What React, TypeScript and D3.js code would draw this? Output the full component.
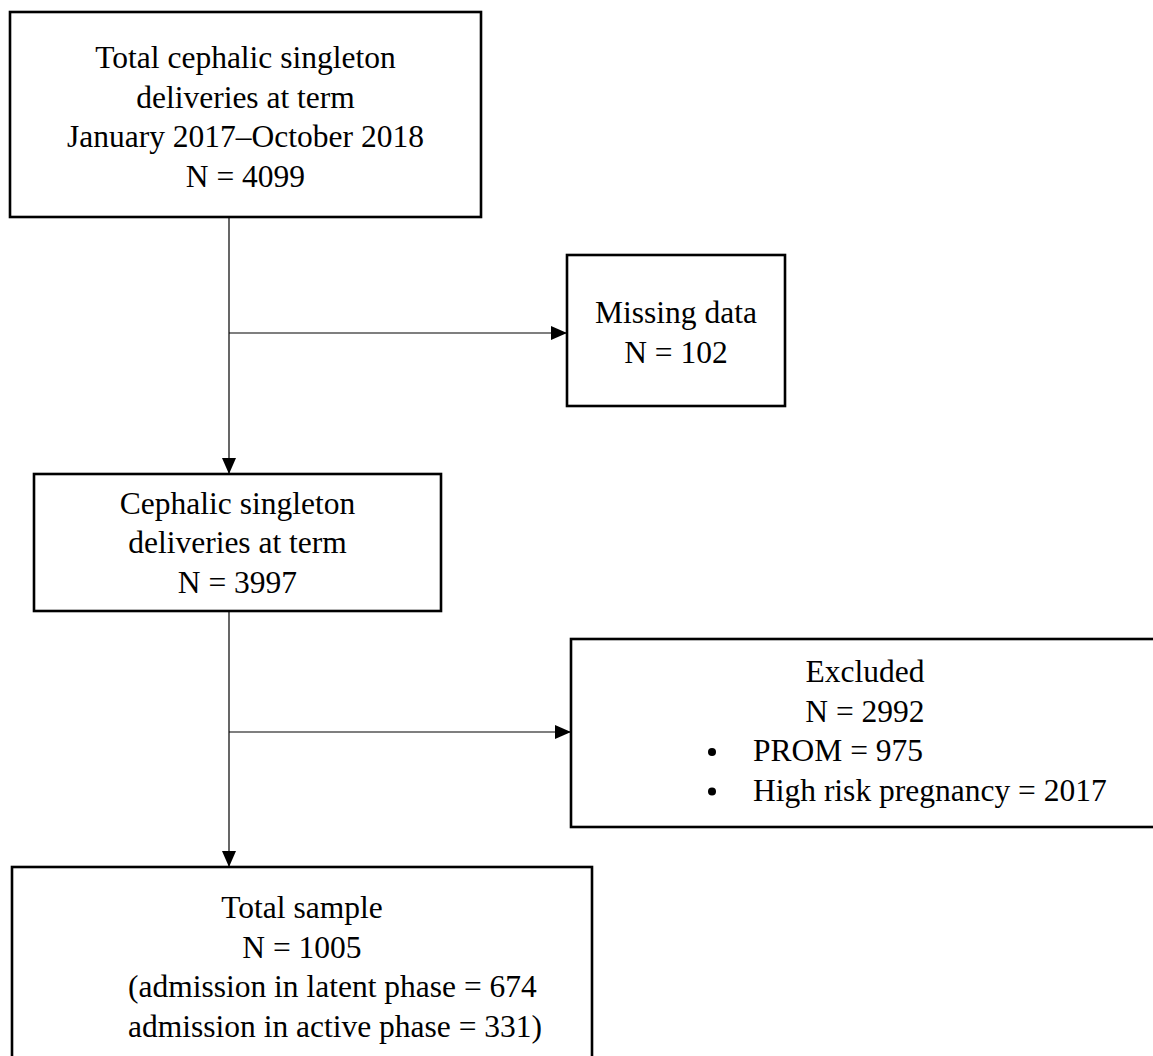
import * as d3 from 'd3'
import { useEffect, useRef } from 'react'

// flow stages (main column)
const stageLabels = [
  ['Total cephalic singleton', 'deliveries at term', 'January 2017–October 2018'],
  ['Cephalic singleton', 'deliveries at term'],
  ['Total sample'],
]
const stageCounts = [4099, 3997, 1005]

// side boxes
const exclusionLabels = ['Missing data', 'Excluded']
const exclusionCounts = [102, 2992]
const excludedReasons = ['PROM', 'High risk pregnancy']
const excludedReasonCounts = [975, 2017]
const subgroupLabels = ['admission in latent phase', 'admission in active phase']
const subgroupCounts = [674, 331]

const W = 1153
const H = 1056
const FONT = '"Liberation Serif", "Times New Roman", serif'
const FS = 31.5
const LH = 39.5

const App = () => {
  const ref = useRef<SVGSVGElement>(null)

  useEffect(() => {
    const svg = d3.select(ref.current)
    svg.selectAll('*').remove()

    const defs = svg.append('defs')
    defs
      .append('marker')
      .attr('id', 'arrow')
      .attr('viewBox', '0 0 16 14')
      .attr('refX', 16)
      .attr('refY', 7)
      .attr('markerWidth', 16)
      .attr('markerHeight', 14)
      .attr('markerUnits', 'userSpaceOnUse')
      .attr('orient', 'auto')
      .append('path')
      .attr('d', 'M0,0L16,7L0,14Z')
      .attr('fill', '#000')

    const trunkX = 229

    const stageBoxes = [
      { x: 10, y: 12, w: 471, h: 205, first: 56 },
      { x: 34, y: 474, w: 407, h: 137, first: 39.5 },
      { x: 12, y: 867, w: 580, h: 240, first: 51 },
    ]
    const sideBoxes = [
      { x: 567, y: 255, w: 218, h: 151, first: 68, cx: 676 },
      { x: 571, y: 639, w: 600, h: 188, first: 43, cx: 865 },
    ]
    const branchY = [333, 732]

    const box = (b: { x: number; y: number; w: number; h: number }) =>
      svg
        .append('rect')
        .attr('x', b.x)
        .attr('y', b.y)
        .attr('width', b.w)
        .attr('height', b.h)
        .attr('fill', '#fff')
        .attr('stroke', '#000')
        .attr('stroke-width', 2.6)

    const text = (x: number, y: number, s: string, anchor = 'middle') =>
      svg
        .append('text')
        .attr('x', x)
        .attr('y', y)
        .attr('text-anchor', anchor)
        .attr('font-family', FONT)
        .attr('font-size', FS)
        .attr('fill', '#000')
        .text(s)

    // connectors
    for (let i = 0; i < 2; i++) {
      const a = stageBoxes[i]
      const b = stageBoxes[i + 1]
      const p = d3.path()
      p.moveTo(trunkX, a.y + a.h)
      p.lineTo(trunkX, b.y)
      svg
        .append('path')
        .attr('d', p.toString())
        .attr('stroke', '#000')
        .attr('stroke-width', 1.2)
        .attr('fill', 'none')
        .attr('marker-end', 'url(#arrow)')

      const q = d3.path()
      q.moveTo(trunkX, branchY[i])
      q.lineTo(sideBoxes[i].x, branchY[i])
      svg
        .append('path')
        .attr('d', q.toString())
        .attr('stroke', '#000')
        .attr('stroke-width', 1.2)
        .attr('fill', 'none')
        .attr('marker-end', 'url(#arrow)')
    }

    // main column boxes
    stageBoxes.forEach((b, i) => {
      box(b)
      const cx = b.x + b.w / 2
      const lines = [...stageLabels[i], `N = ${stageCounts[i]}`]
      lines.forEach((s, j) => text(cx, b.y + b.first + j * LH, s))
      if (i === 2) {
        subgroupLabels.forEach((s, j) => {
          const pre = j === 0 ? '(' : ''
          const post = j === subgroupLabels.length - 1 ? ')' : ''
          text(128, b.y + b.first + (lines.length + j) * LH, `${pre}${s} = ${subgroupCounts[j]}${post}`, 'start')
        })
      }
    })

    // side boxes
    sideBoxes.forEach((b, i) => {
      box(b)
      text(b.cx, b.y + b.first, exclusionLabels[i])
      text(b.cx, b.y + b.first + LH, `N = ${exclusionCounts[i]}`)
      if (i === 1) {
        excludedReasons.forEach((r, j) => {
          const y = b.y + b.first + (2 + j) * LH
          svg
            .append('circle')
            .attr('cx', 712)
            .attr('cy', y - 9)
            .attr('r', 4)
            .attr('fill', '#000')
          text(753, y, `${r} = ${excludedReasonCounts[j]}`, 'start')
        })
      }
    })
  }, [])

  return (
    <svg
      ref={ref}
      width={W}
      height={H}
      style={{ position: 'absolute', left: 0, top: 0, display: 'block', background: '#fff' }}
    />
  )
}

export default App
